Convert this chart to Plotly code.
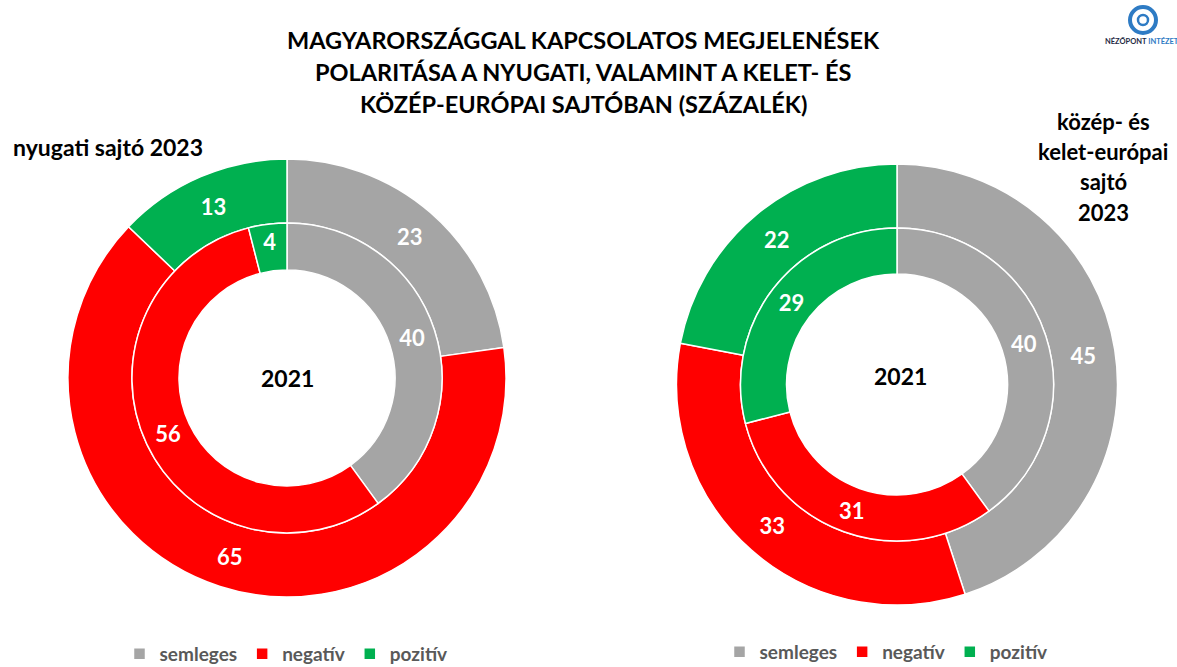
import plotly.graph_objects as go

W, H = 1177, 667

categories = ["semleges", "negatív", "pozitív"]
colors = ["#A5A5A5", "#FF0000", "#00B050"]

west_2023 = [23, 65, 13]
west_2021 = [40, 56, 4]
cee_2023 = [45, 33, 22]
cee_2021 = [40, 31, 29]

# right-hand chart gets its own legend entries (zero-width space keeps labels distinct)
categories_right = [c + "\u200b" for c in categories]

FONT = "Lato"

def px(x):
    return x / W

def py(y):
    return 1 - y / H

def dom(cx, cy, r):
    return dict(x=[px(cx - r), px(cx + r)], y=[py(cy + r), py(cy - r)])

def pie(labels, values, cx, cy, r, hole, legend, showlegend):
    return go.Pie(
        labels=labels, values=values, sort=False, direction="clockwise", rotation=0,
        hole=hole, domain=dom(cx, cy, r),
        marker=dict(colors=colors, line=dict(color="white", width=1.5)),
        texttemplate="%{value}", textposition="inside", insidetextorientation="horizontal",
        textfont=dict(family=FONT, size=22, color="white", weight="bold"),
        legend=legend, showlegend=showlegend, hoverinfo="label+value",
    )

fig = go.Figure()
# left: nyugati sajtó
fig.add_trace(pie(categories, west_2023, 287, 378, 219, 155 / 219, "legend", True))
fig.add_trace(pie(categories, west_2021, 287, 378, 155, 108 / 155, "legend", False))
# right: közép- és kelet-európai sajtó
fig.add_trace(pie(categories_right, cee_2023, 897, 384.5, 220.5, 156.5 / 220.5, "legend2", True))
fig.add_trace(pie(categories_right, cee_2021, 897, 384.5, 156.5, 110.5 / 156.5, "legend2", False))

title_lines = [
    "MAGYARORSZÁGGAL KAPCSOLATOS MEGJELENÉSEK",
    "POLARITÁSA A NYUGATI, VALAMINT A KELET- ÉS",
    "KÖZÉP-EURÓPAI SAJTÓBAN (SZÁZALÉK)",
]
annotations = []
for i, line in enumerate(title_lines):
    annotations.append(dict(
        text=line, x=px(583), y=py(40 + 32 * i), xref="paper", yref="paper",
        xanchor="center", yanchor="middle", showarrow=False,
        font=dict(family=FONT, size=23.5, color="black", weight="bold")))

annotations.append(dict(
    text="nyugati sajtó 2023", x=px(11), y=py(147), xref="paper", yref="paper",
    xanchor="left", yanchor="middle", showarrow=False,
    font=dict(family=FONT, size=23, color="black", weight="bold")))

for i, line in enumerate(["közép- és", "kelet-európai", "sajtó", "2023"]):
    annotations.append(dict(
        text=line, x=px(1103), y=py(121 + 30.5 * i), xref="paper", yref="paper",
        xanchor="center", yanchor="middle", showarrow=False,
        font=dict(family=FONT, size=22, color="black", weight="bold")))

for cx, cy in [(287, 378), (900, 376)]:
    annotations.append(dict(
        text="2021", x=px(cx), y=py(cy), xref="paper", yref="paper",
        xanchor="center", yanchor="middle", showarrow=False,
        font=dict(family=FONT, size=23, color="black", weight="bold")))

# logo
annotations.append(dict(
    text="NÉZŐPONT <span style='color:#2E7BC4'>INTÉZET</span>", x=px(1142), y=py(41),
    xref="paper", yref="paper", xanchor="center", yanchor="middle", showarrow=False,
    font=dict(family=FONT, size=7.5, color="#1F2A44", weight="bold")))

shapes = [
    dict(type="circle", xref="paper", yref="paper",
         x0=px(1130), x1=px(1156), y0=py(33), y1=py(7),
         line=dict(color="#2E7BC4", width=4), fillcolor="white"),
    dict(type="circle", xref="paper", yref="paper",
         x0=px(1138), x1=px(1148), y0=py(25), y1=py(15),
         line=dict(color="#2E7BC4", width=2.5), fillcolor="white"),
]

legend_style = dict(
    orientation="h", xanchor="center", yanchor="middle",
    font=dict(family=FONT, size=19, color="#595959", weight="bold"),
    bgcolor="rgba(0,0,0,0)", itemwidth=30, traceorder="normal",
)

fig.update_layout(
    width=W, height=H, autosize=False,
    margin=dict(l=0, r=0, t=0, b=0, autoexpand=False),
    paper_bgcolor="white", plot_bgcolor="white",
    annotations=annotations, shapes=shapes,
    legend=dict(x=px(286), y=py(654), **legend_style),
    legend2=dict(x=px(886), y=py(652), **legend_style),
)

fig.write_html(
    "out.html",
    config={"displayModeBar": False},
    post_script="document.body.style.margin='0';",
)
